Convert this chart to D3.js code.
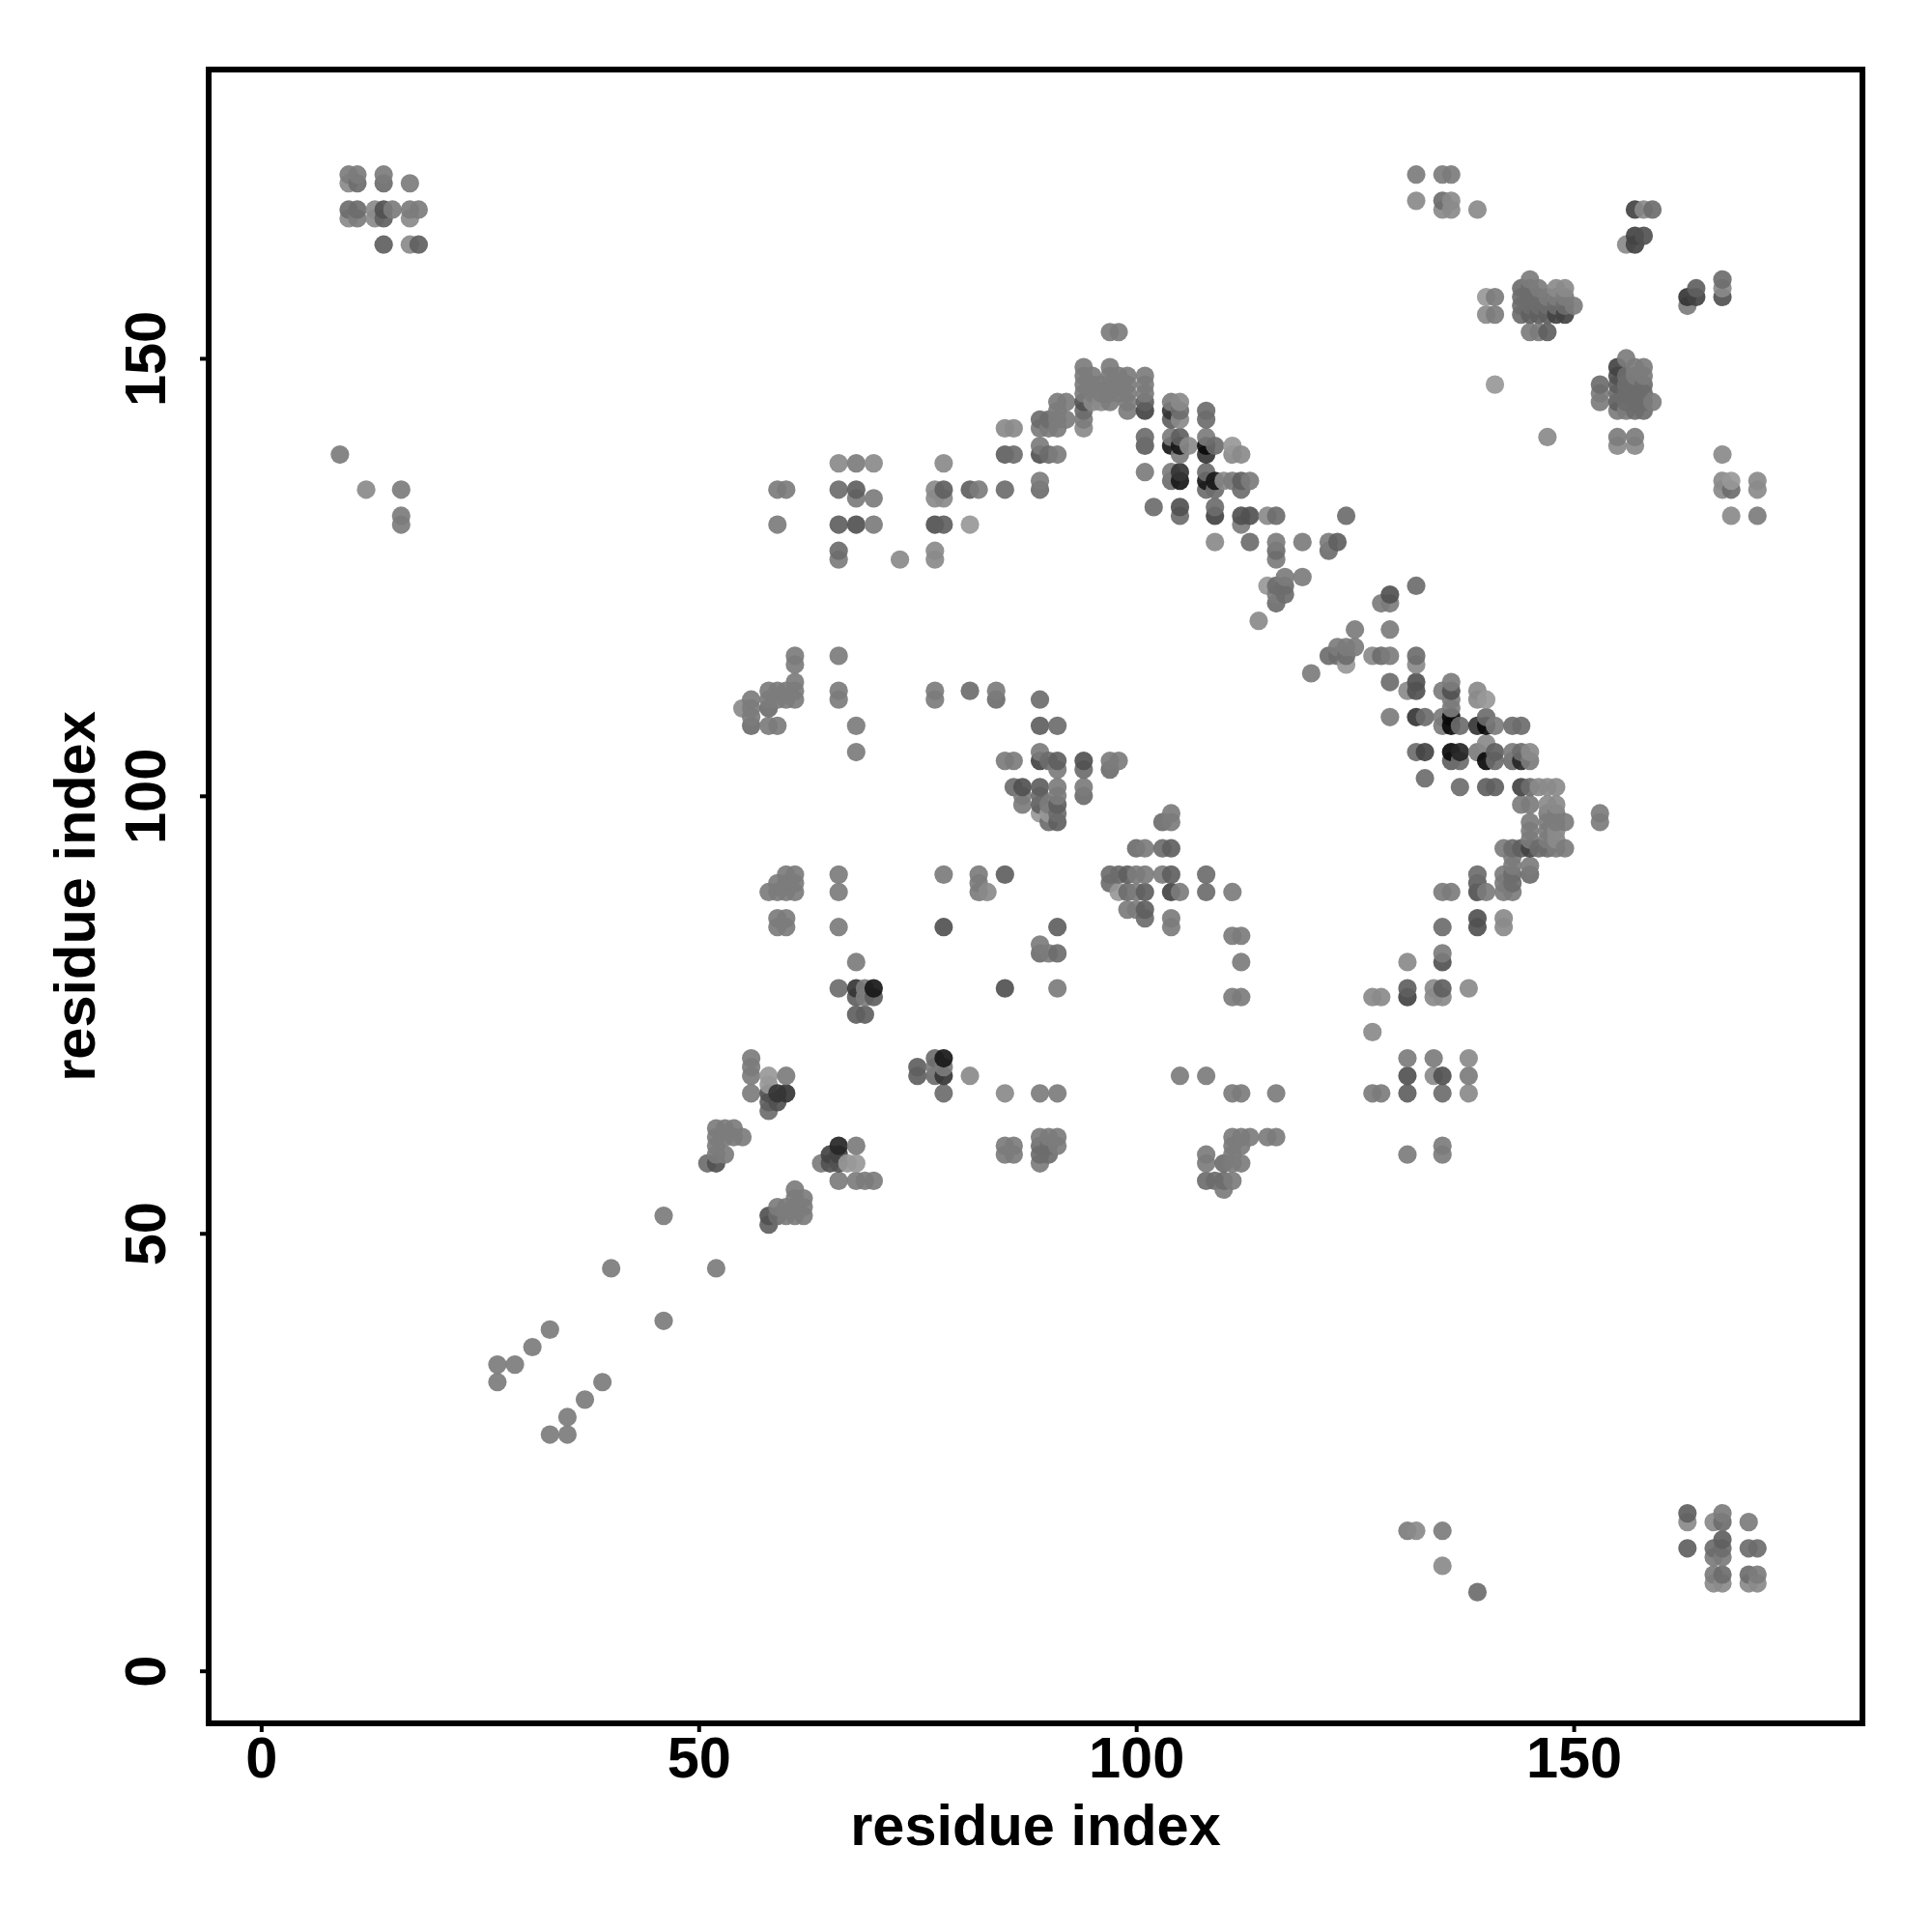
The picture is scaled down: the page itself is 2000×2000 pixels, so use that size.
<!DOCTYPE html>
<html><head><meta charset="utf-8">
<script src="https://cdn.jsdelivr.net/npm/d3@7/dist/d3.min.js"></script>
<style>html,body{margin:0;background:#fff}svg{display:block}</style></head>
<body><div id="chart"></div>
<script>
// Contacts as [residue i, residue j, strength 0..10]
const contactsTopLeft = [[10,171,2],[11,171,2],[14,171,2],[10,170,1],[11,170,3],[14,170,3],[17,170,2],[10,167,3],[11,167,3],[13,167,1],[14,167,5],[15,167,2],[17,167,2],[18,167,2],[10,166,1],[11,166,2],[13,166,1],[14,166,4],[17,166,1],[14,163,4],[17,163,1],[18,163,4],[9,139,2],[12,135,1],[16,135,2],[16,132,2],[16,131,2]];
const contactsLowerRight = [[131,16,2],[132,16,1],[135,16,2],[135,12,1],[139,9,3],[163,18,4],[163,17,1],[167,18,2],[166,17,1],[167,17,3],[170,17,2],[163,14,4],[166,14,3],[167,15,4],[167,14,3],[170,14,3],[171,14,3],[166,13,2],[167,13,2],[166,11,2],[167,11,3],[170,11,3],[171,11,2],[166,10,1],[167,10,1],[170,10,1],[171,10,1]];
const contactsSparse = [[46,52,2],[40,46,2],[52,46,2],[46,40,2],[33,39,2],[31,37,2],[27,35,2],[29,35,2],[27,33,2],[39,33,2],[37,31,2],[35,29,2],[33,27,2],[35,27,2]];
const contactsUpperDiagonal = [[97,153,2],[98,153,2],[94,149,2],[94,148,2],[94,147,2],[94,146,2],[94,145,5],[94,144,3],[94,143,2],[94,142,1],[95,148,2],[95,147,2],[95,146,2],[95,145,1],[96,147,2],[96,146,2],[96,145,1],[97,149,2],[97,148,2],[97,147,2],[97,146,2],[97,145,2],[98,148,2],[98,147,2],[98,146,2],[99,148,2],[99,147,2],[99,146,2],[99,145,2],[99,144,2],[101,148,2],[101,147,2],[101,146,2],[101,145,4],[101,144,6],[91,145,2],[92,145,2],[91,144,2],[89,143,3],[90,143,3],[91,143,2],[92,143,2],[89,142,2],[90,142,2],[91,142,2],[89,140,2],[89,139,5],[90,139,3],[91,139,2],[85,142,1],[86,142,1],[85,139,4],[86,139,3],[89,136,2],[89,135,3],[85,135,3],[81,135,4],[82,135,2],[81,131,0],[101,141,3],[101,140,4],[101,137,2],[104,145,2],[105,145,1],[104,144,7],[105,144,3],[104,143,4],[105,143,1],[104,141,2],[105,141,4],[104,140,9],[105,140,9],[105,139,2],[106,140,1],[104,137,2],[105,137,7],[104,136,3],[105,136,9],[108,144,3],[108,143,3],[108,141,2],[108,140,10],[108,139,7],[109,140,3],[108,137,3],[108,136,9],[108,135,3],[109,136,9],[109,135,3],[110,136,1],[111,136,2],[112,136,4],[113,136,2],[112,135,3],[111,140,0],[111,139,1],[112,139,1],[102,133,3],[105,133,5],[105,132,3],[109,133,3],[109,132,6],[112,132,5],[113,132,5],[112,131,2],[115,132,1],[116,132,3],[124,132,3],[109,129,1],[113,129,3],[116,129,2],[116,128,3],[116,127,2],[119,129,2],[122,129,2],[122,128,3],[123,129,4],[115,124,0],[116,124,3],[117,125,2],[117,124,3],[117,123,3],[116,123,2],[116,122,3],[119,125,2],[114,120,1]];
const contactsUpperLeft = [[66,138,1],[68,138,2],[70,138,1],[78,138,1],[59,135,2],[60,135,2],[66,135,3],[68,135,4],[68,134,2],[70,134,2],[77,135,1],[78,135,4],[77,134,1],[78,134,1],[59,131,2],[66,131,4],[68,131,5],[70,131,2],[77,131,5],[78,131,4],[66,128,3],[66,127,2],[73,127,1],[77,128,1],[77,127,1],[61,116,2],[66,116,2],[61,115,2],[61,113,2],[61,112,2],[58,112,2],[59,112,2],[60,112,2],[66,112,2],[77,112,2],[81,112,3],[84,112,2],[56,111,2],[58,111,2],[59,111,2],[60,111,2],[61,111,2],[66,111,2],[77,111,2],[84,111,3],[89,111,3],[55,110,1],[56,110,2],[58,110,3],[56,109,2],[56,108,3],[58,108,2],[59,108,2],[68,108,2],[89,108,4],[91,108,3],[68,105,2]];
const contactsCentre = [[89,105,2],[85,104,2],[86,104,2],[89,104,6],[90,104,3],[91,104,4],[94,104,5],[97,104,2],[98,104,2],[91,103,2],[94,103,3],[97,103,3],[86,101,3],[87,101,5],[89,101,4],[91,101,2],[94,101,2],[87,100,2],[89,100,3],[91,100,2],[94,100,3],[87,99,2],[89,99,4],[90,99,2],[91,99,4],[89,98,0],[90,98,0],[91,98,3],[90,97,3],[91,97,4],[104,98,2],[103,97,3],[104,97,2],[100,94,3],[101,94,2],[103,94,3],[104,94,4],[97,91,3],[98,91,3],[99,91,4],[100,91,2],[101,91,2],[103,91,2],[104,91,4],[97,90,3],[98,89,0],[99,89,3],[100,89,2],[101,89,4],[104,89,6],[105,89,2],[99,87,2],[100,87,2],[101,87,4],[101,86,3],[104,86,2],[104,85,2],[108,91,3],[108,89,3],[111,89,2],[111,84,2],[112,84,2],[112,81,2],[111,77,2],[112,77,2],[105,68,2],[108,68,2],[111,66,2],[112,66,2],[116,66,2]];
const contactsLeftColumn = [[60,91,2],[61,91,2],[59,90,2],[60,90,2],[61,90,2],[58,89,2],[59,89,2],[60,89,2],[61,89,2],[59,86,2],[60,86,2],[59,85,2],[60,85,2],[66,91,2],[66,89,2],[66,85,2],[78,91,2],[82,91,2],[82,90,2],[82,89,2],[83,89,1],[85,91,4],[78,85,5],[91,85,4],[89,83,2],[89,82,3],[90,82,2],[91,82,3],[68,81,2],[66,78,3],[68,78,7],[69,78,2],[70,78,9],[68,77,4],[69,77,2],[70,77,4],[68,75,4],[69,75,4],[85,78,5],[91,78,2]];
const contactsLowerLeft = [[56,70,2],[56,69,2],[56,68,2],[58,68,0],[58,67,0],[60,68,2],[56,66,2],[58,66,5],[59,66,7],[60,66,7],[58,65,4],[59,65,5],[58,64,3],[75,69,4],[75,68,4],[77,70,3],[78,70,9],[77,69,2],[78,69,2],[77,68,3],[78,68,7],[81,68,1],[78,66,3],[85,66,1],[89,66,2],[91,66,2],[52,62,2],[53,62,2],[54,62,2],[52,61,2],[53,61,2],[54,61,2],[55,61,2],[52,60,2],[52,59,2],[53,59,2],[51,58,3],[52,58,5],[66,60,8],[68,60,2],[65,59,6],[66,59,6],[64,58,2],[65,58,5],[66,58,5],[67,58,0],[68,58,0],[66,56,2],[68,56,2],[69,56,2],[70,56,2],[61,55,2],[61,54,2],[62,54,2],[59,53,2],[60,53,2],[61,53,2],[62,53,2],[58,52,5],[59,52,3],[60,52,2],[61,52,2],[62,52,2],[58,51,4],[85,60,2],[86,60,2],[85,59,2],[86,59,2],[89,61,2],[90,61,2],[91,61,2],[89,60,3],[90,60,3],[91,60,2],[89,59,3],[90,59,3],[89,58,2],[111,61,2],[112,61,2],[113,61,2],[115,61,2],[116,61,2],[111,60,2],[112,60,2],[111,59,2],[108,59,2],[108,58,2],[110,58,3],[111,58,2],[112,58,2],[108,56,3],[109,56,3],[110,56,3],[111,56,2],[110,55,2]];
const contactsLowerMiddle = [[135,89,2],[136,89,2],[139,91,3],[139,90,4],[139,89,5],[140,89,2],[139,86,5],[142,86,1],[139,85,5],[142,85,1],[135,85,3],[135,82,2],[135,81,5],[131,81,1],[131,78,4],[131,77,6],[134,78,1],[135,78,4],[134,77,1],[135,77,1],[138,78,1],[127,77,1],[128,77,1],[127,73,1],[131,70,2],[134,70,2],[138,70,1],[131,68,5],[134,68,1],[135,68,5],[138,68,2],[127,66,2],[128,66,2],[131,66,4],[135,66,3],[138,66,1],[131,59,2],[135,60,2],[135,59,2]];
const contactsUpperRight = [[132,171,2],[135,171,2],[136,171,2],[132,168,1],[135,168,3],[136,168,1],[135,167,1],[136,167,1],[139,167,1],[157,167,6],[158,167,1],[159,167,3],[157,164,6],[158,164,5],[156,163,1],[157,163,6],[140,157,0],[141,157,2],[140,155,1],[141,155,2],[145,159,2],[144,158,3],[145,158,3],[146,158,2],[148,158,1],[149,158,1],[144,157,3],[145,157,3],[146,157,3],[147,157,2],[148,157,2],[149,157,2],[144,156,3],[145,156,3],[146,156,3],[147,156,3],[148,156,3],[149,156,3],[150,156,2],[144,155,3],[145,155,4],[146,155,4],[147,155,4],[148,155,6],[149,155,6],[145,153,2],[146,153,2],[147,153,4],[163,157,7],[163,156,2],[164,158,4],[164,157,6],[167,159,3],[167,158,1],[167,157,5],[155,149,6],[156,150,2],[157,149,2],[158,149,2],[155,148,5],[156,148,3],[157,148,2],[158,148,2],[153,147,3],[155,147,4],[156,147,3],[157,147,3],[158,147,3],[153,146,2],[155,146,3],[156,146,3],[157,146,3],[158,146,3],[153,145,2],[155,145,4],[156,145,3],[157,145,3],[158,145,3],[159,145,2],[155,144,2],[156,144,2],[157,144,3],[158,144,3],[141,147,0],[147,141,1],[155,141,2],[157,141,2],[155,140,1],[157,140,1],[167,139,1],[167,136,1],[168,136,0],[167,135,1],[168,135,3],[171,136,1],[171,135,1],[168,132,1],[171,132,2]];
const contactsLowerDiagonal = [[132,124,3],[129,123,5],[128,122,2],[129,122,2],[125,119,2],[129,119,2],[123,117,2],[124,117,2],[125,117,2],[122,116,3],[123,116,3],[124,116,3],[124,115,0],[127,116,1],[128,116,3],[129,116,2],[132,116,3],[132,115,1],[120,114,2],[129,113,3],[132,113,5],[131,112,1],[132,112,5],[136,113,2],[135,112,2],[136,112,5],[136,111,2],[136,110,2],[139,112,1],[139,111,1],[140,111,0],[140,109,3],[129,109,2],[132,109,7],[133,109,3],[135,109,2],[136,109,10],[135,108,2],[136,108,10],[137,108,3],[139,108,7],[140,108,10],[141,108,2],[143,108,3],[144,108,3],[132,105,3],[133,105,6],[136,105,10],[137,105,8],[139,105,2],[140,106,1],[141,105,4],[143,105,2],[144,105,3],[145,105,1],[136,104,4],[137,104,3],[140,104,10],[141,104,3],[143,104,3],[144,104,8],[145,104,2],[133,102,3],[137,101,3],[140,101,4],[141,101,4],[144,101,6],[145,101,3],[146,101,1],[147,101,1],[148,101,1],[144,99,2],[145,99,2],[147,99,1],[148,99,1],[147,98,2],[148,98,2],[153,98,2],[145,97,2],[147,97,2],[148,97,2],[149,97,2],[153,97,2],[145,96,2],[147,96,2],[148,96,1],[145,95,2],[147,95,2],[148,95,1],[142,94,2],[143,94,3],[144,94,4],[145,94,6],[146,94,3],[147,94,3],[148,94,2],[149,94,2],[143,93,2],[145,92,2],[143,92,2],[142,91,2],[143,91,3],[145,91,3],[142,90,2],[143,90,3],[142,89,2],[143,89,2]];

const allContacts = [contactsTopLeft, contactsLowerRight, contactsSparse, contactsUpperDiagonal, contactsUpperLeft, contactsCentre, contactsLeftColumn, contactsLowerLeft, contactsLowerMiddle, contactsUpperRight, contactsLowerDiagonal].flat();
const tickValues = [0, 50, 100, 150];
const axisTitle = "residue index";
const axisDomain = [-6, 183];

const svg = d3.select("#chart").append("svg").attr("width", 2000).attr("height", 2000);
const x = d3.scaleLinear().domain(axisDomain).range([216, 1928]);
const y = d3.scaleLinear().domain(axisDomain).range([1784, 72]);
const grey = d3.scaleLinear().domain([0, 10]).range([152, 10]);
const font = "'Liberation Sans', Arial, sans-serif";

const drawOrder = allContacts.slice().sort((a, b) => d3.ascending(a[0], b[0]) || d3.ascending(a[1], b[1]));
svg.append("g").selectAll("circle").data(drawOrder).join("circle")
  .attr("cx", d => x(d[0])).attr("cy", d => y(d[1])).attr("r", 9.6)
  .attr("fill", d => { const g = Math.round(grey(d[2])); return `rgb(${g},${g},${g})`; })
  .attr("fill-opacity", 0.92);

svg.append("rect").attr("x", 216).attr("y", 72).attr("width", 1712).attr("height", 1712)
  .attr("fill", "none").attr("stroke", "#000").attr("stroke-width", 6);

const gx = svg.append("g").attr("transform", "translate(0,1784)")
  .call(d3.axisBottom(x).tickValues(tickValues).tickFormat(d3.format("d")).tickSize(9).tickPadding(0));
const gy = svg.append("g").attr("transform", "translate(216,0)")
  .call(d3.axisLeft(y).tickValues(tickValues).tickFormat(d3.format("d")).tickSize(9).tickPadding(0));
[gx, gy].forEach(g => {
  g.select(".domain").remove();
  g.selectAll("line").attr("stroke", "#000").attr("stroke-width", 4);
  g.selectAll("text").attr("fill", "#000").style("font", `bold 59.5px ${font}`);
});
gx.selectAll("text").attr("y", 56).attr("dy", 0).attr("text-anchor", "middle");
gy.selectAll("text").attr("x", 0).attr("dy", 0).attr("y", 0).attr("text-anchor", "middle")
  .attr("transform", "translate(-45,0) rotate(-90)");

svg.append("text").attr("x", 1072).attr("y", 1910).attr("text-anchor", "middle")
  .style("font", `bold 59.5px ${font}`).text(axisTitle);
svg.append("text").attr("transform", "translate(98,928) rotate(-90)").attr("text-anchor", "middle")
  .style("font", `bold 59.5px ${font}`).text(axisTitle);
</script></body></html>
